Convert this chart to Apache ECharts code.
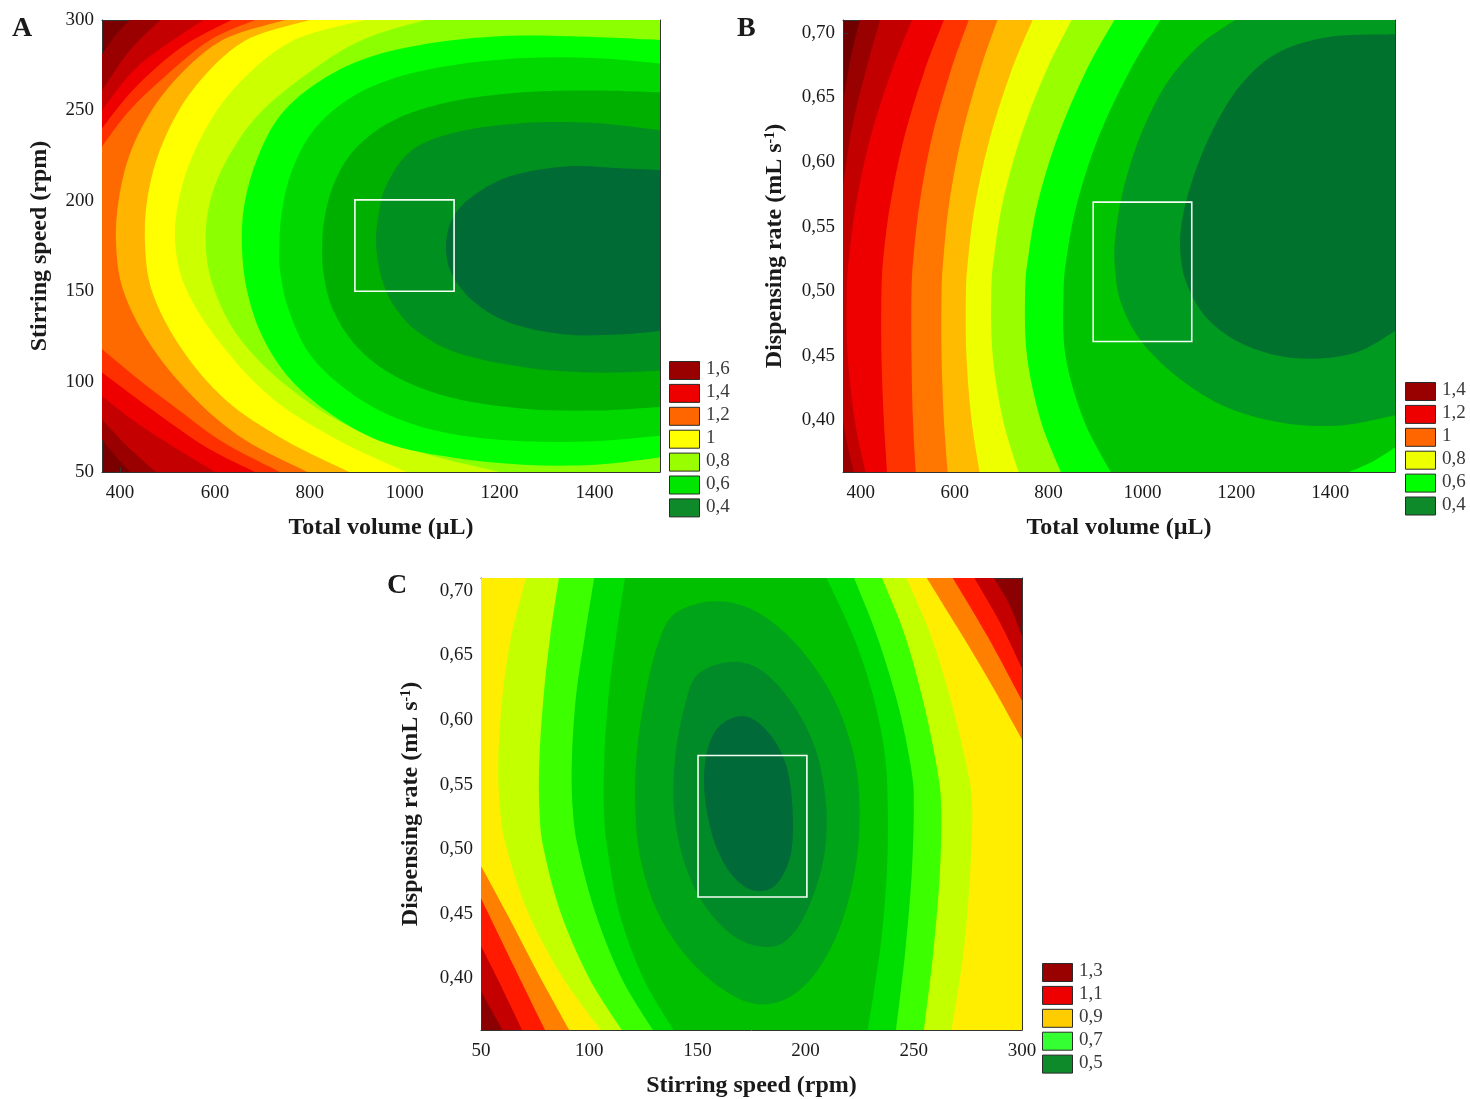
<!DOCTYPE html>
<html>
<head>
<meta charset="utf-8">
<script src="https://cdn.jsdelivr.net/npm/echarts@6/dist/echarts.min.js"></script>
<style>
  html, body { margin: 0; background: #fff; }
  #chart { width: 1470px; height: 1099px; }
</style>
</head>
<body>
<div id="chart"></div>
<script>
// axis ranges of the three response surfaces
var volumeRange = [362, 1538];
var speedRange = [50, 300];
var rateRange = [0.36, 0.71];

// tick labels
var volumeTicks = [400, 600, 800, 1000, 1200, 1400];
var speedTicks = [50, 100, 150, 200, 250, 300];
var rateTicks = [0.40, 0.45, 0.50, 0.55, 0.60, 0.65, 0.70];

// legend labels
var legendA = ['1,6', '1,4', '1,2', '1', '0,8', '0,6', '0,4'];
var legendB = ['1,4', '1,2', '1', '0,8', '0,6', '0,4'];
var legendC = ['1,3', '1,1', '0,9', '0,7', '0,5'];

// optimum boxes [x1, y1, x2, y2]
var boxA = [895, 150, 1104, 200.5];
var boxB = [895, 0.461, 1105, 0.569];
var boxC = [150.3, 0.463, 200.6, 0.5725];

// contour levels (outer -> inner) and the contour pieces
// each piece runs with the lower-value side on its right
var levelsA = [1.65, 1.55, 1.45, 1.35, 1.25, 1.15, 1.05, 0.95, 0.85, 0.75, 0.65, 0.55, 0.45, 0.35];
var contoursA = [
  [[[362, 281], [392, 292], [421, 300]], [[421, 50], [390, 59], [362, 68]]],
  [[[362, 261], [420, 283], [485, 300]], [[476, 50], [420, 63], [362, 79]]],
  [[[362, 250], [440, 275], [575, 300]], [[600, 50], [500, 66], [420, 80], [362, 92]]],
  [[[362, 240], [430, 262], [530, 285], [635, 300]], [[685, 50], [580, 64], [470, 84], [362, 105]]],
  [[[362, 230], [420, 250], [500, 270], [590, 289], [685, 300]], [[737, 50], [620, 66], [520, 85], [440, 101], [362, 118]]],
  [[[795, 50], [662, 68], [560, 90], [470, 118], [410, 148], [392, 174], [398, 202], [430, 232], [500, 262], [610, 288], [748, 300]]],
  [[[883, 50], [745, 68], [622, 90], [530, 118], [470, 148], [453, 174], [458, 202], [490, 232], [555, 262], [660, 288], [800, 300]]],
  [[[1003, 50], [857, 68], [724, 90], [621, 118], [545, 148], [517, 174], [525, 202], [565, 232], [640, 262], [760, 288], [916, 300]]],
  [[[1200, 50], [1030, 61], [870, 77], [745, 99], [652, 124], [600, 150], [581, 174], [590, 200], [630, 225], [700, 250], [820, 275], [920, 290], [1043, 300]]],
  [[[1538, 58], [1400, 54], [1250, 54], [1100, 58], [960, 66], [850, 81], [760, 101], [700, 125], [668, 150], [657, 174], [662, 198], [690, 224], [740, 248], [820, 266], [920, 279], [1050, 287], [1200, 291], [1350, 291], [1538, 289]]],
  [[[1538, 70], [1400, 67], [1250, 67], [1100, 71], [980, 80], [880, 95], [800, 115], [755, 140], [738, 160], [736, 174], [740, 192], [760, 215], [805, 238], [880, 256], [980, 268], [1100, 275], [1250, 279], [1400, 279], [1538, 276]]],
  [[[1538, 86], [1400, 84], [1250, 85], [1100, 91], [980, 103], [900, 119], [850, 139], [830, 158], [826, 174], [832, 192], [855, 212], [900, 230], [980, 245], [1100, 255], [1250, 260], [1400, 261], [1538, 260]]],
  [[[1538, 106], [1400, 105], [1250, 108], [1110, 116], [1030, 127], [985, 139], [955, 154], [940, 174], [944, 191], [962, 209], [1015, 228], [1110, 238], [1250, 243], [1400, 243], [1538, 239]]],
  [[[1538, 128], [1450, 126], [1340, 126], [1227, 132], [1151, 143], [1102, 158], [1087, 174], [1102, 191], [1151, 204], [1227, 214], [1340, 219], [1453, 218], [1538, 217]]]
];

var levelsB = [1.45, 1.35, 1.25, 1.15, 1.05, 0.95, 0.85, 0.75, 0.65, 0.55, 0.45, 0.35];
var contoursB = [
  [[[362, 0.645], [378, 0.68], [398, 0.71]]],
  [[[362, 0.58], [380, 0.625], [410, 0.67], [441, 0.71]], [[385, 0.36], [372, 0.38], [362, 0.40]]],
  [[[410, 0.36], [387, 0.40], [372, 0.45], [370, 0.50], [376, 0.53], [391, 0.57], [421, 0.62], [465, 0.67], [509, 0.71]]],
  [[[456, 0.36], [449, 0.40], [444, 0.45], [444, 0.50], [449, 0.53], [464, 0.57], [493, 0.62], [535, 0.67], [577, 0.71]]],
  [[[517, 0.36], [511, 0.40], [508, 0.45], [508, 0.50], [513, 0.53], [526, 0.57], [552, 0.62], [591, 0.67], [630, 0.71]]],
  [[[585, 0.36], [577, 0.40], [572, 0.45], [572, 0.50], [577, 0.53], [589, 0.57], [615, 0.62], [653, 0.67], [691, 0.71]]],
  [[[653, 0.36], [636, 0.40], [625, 0.45], [624, 0.50], [630, 0.53], [645, 0.57], [676, 0.62], [720, 0.67], [766, 0.71]]],
  [[[736, 0.36], [703, 0.40], [681, 0.45], [678, 0.50], [685, 0.53], [703, 0.57], [741, 0.62], [794, 0.67], [849, 0.71]]],
  [[[826, 0.36], [783, 0.40], [754, 0.45], [750, 0.50], [758, 0.53], [778, 0.57], [820, 0.62], [879, 0.67], [940, 0.71]]],
  [[[932, 0.36], [875, 0.40], [836, 0.45], [832, 0.50], [840, 0.53], [862, 0.57], [907, 0.62], [972, 0.67], [1038, 0.71]], [[1538, 0.379], [1490, 0.368], [1440, 0.36]]],
  [[[1538, 0.404], [1420, 0.396], [1300, 0.398], [1180, 0.41], [1080, 0.432], [1000, 0.46], [955, 0.49], [941, 0.52], [943, 0.545], [960, 0.58], [995, 0.62], [1050, 0.66], [1120, 0.69], [1197, 0.71]]],
  [[[1538, 0.469], [1450, 0.452], [1330, 0.448], [1220, 0.458], [1140, 0.478], [1095, 0.505], [1080, 0.533], [1087, 0.56], [1110, 0.59], [1150, 0.625], [1210, 0.66], [1290, 0.685], [1400, 0.697], [1538, 0.699]]]
];

var levelsC = [1.3, 1.2, 1.1, 1.0, 0.9, 0.8, 0.7, 0.65, 0.6, 0.55, 0.5];
var contoursC = [
  [[[60, 0.36], [55, 0.375], [50, 0.39]], [[287, 0.71], [294, 0.69], [300, 0.665]]],
  [[[69, 0.36], [59, 0.395], [50, 0.425]], [[278, 0.71], [290, 0.675], [300, 0.64]]],
  [[[79.6, 0.36], [65, 0.41], [50, 0.462]], [[268, 0.71], [284, 0.665], [300, 0.615]]],
  [[[90.8, 0.36], [76, 0.405], [62, 0.45], [50, 0.487]], [[256, 0.71], [270, 0.672], [285, 0.63], [300, 0.585]]],
  [[[105.3, 0.36], [88, 0.40], [72, 0.45], [62, 0.50], [58.8, 0.531], [58, 0.57], [60, 0.62], [64, 0.665], [70.8, 0.71]], [[246.6, 0.71], [258, 0.665], [268, 0.61], [275, 0.56], [277, 0.531], [276, 0.48], [273, 0.42], [267.5, 0.36]]],
  [[[115, 0.36], [100, 0.40], [87, 0.45], [79, 0.50], [77, 0.531], [77, 0.57], [79, 0.62], [82, 0.665], [86, 0.71]], [[235.3, 0.71], [246, 0.665], [255, 0.61], [261, 0.56], [262.7, 0.531], [262, 0.48], [259, 0.42], [254.7, 0.36]]],
  [[[129.4, 0.36], [115, 0.40], [103, 0.45], [95, 0.50], [92.4, 0.531], [92, 0.57], [94, 0.62], [98, 0.665], [102.3, 0.71]], [[222.4, 0.71], [233, 0.665], [243, 0.61], [249, 0.56], [250, 0.531], [249, 0.48], [246, 0.42], [241.8, 0.36]]],
  [[[139, 0.36], [125, 0.40], [114, 0.45], [108.5, 0.50], [106.8, 0.531], [107, 0.57], [109, 0.62], [112.5, 0.665], [116.5, 0.71]], [[209.7, 0.71], [222, 0.665], [231, 0.62], [236.5, 0.575], [238, 0.531], [237.5, 0.48], [235, 0.43], [232, 0.395], [228.8, 0.36]]],
  [[[140, 0.683], [158, 0.692], [176, 0.685], [195, 0.66], [212, 0.62], [222, 0.575], [225, 0.531], [223, 0.485], [216, 0.44], [205, 0.405], [192, 0.385], [178, 0.38], [163, 0.39], [146, 0.415], [132, 0.45], [124, 0.49], [121.3, 0.531], [122, 0.575], [126, 0.62], [132, 0.66]]],
  [[[150, 0.635], [165, 0.645], [180, 0.638], [195, 0.61], [205, 0.575], [209.6, 0.531], [208, 0.49], [200, 0.45], [190, 0.428], [178, 0.425], [165, 0.435], [152, 0.46], [143, 0.495], [139, 0.535], [140, 0.575], [144, 0.61]]],
  [[[160, 0.595], [172, 0.603], [183, 0.59], [191, 0.565], [194, 0.53], [193, 0.495], [186, 0.472], [176, 0.468], [166, 0.48], [158, 0.505], [153.5, 0.54], [154, 0.572]]]
];

// ---- styles ----
var serif = "'Liberation Serif', 'DejaVu Serif', serif";
var textColor = '#1a1a1a';
var frameColor = '#333';
// background = band above the highest level, then one fill per level
var topA = '#7a0000';
var fillsA = ['#9a0000', '#c40000', '#ee0000', '#ff3000', '#ff6a00', '#ffb400', '#ffff00', '#ccff00', '#8cff00', '#00ff00', '#00d800', '#00b000', '#00901f', '#006b35'];
var topB = '#700000';
var fillsB = ['#990000', '#c20000', '#ee0000', '#ff3300', '#ff7700', '#ffbb00', '#eeff00', '#99ff00', '#00ff00', '#00c400', '#009a20', '#00722e'];
var topC = '#8b0000';
var fillsC = ['#c40000', '#ff1a00', '#ff8000', '#ffee00', '#c4ff00', '#3cff00', '#00dd00', '#00c000', '#00a418', '#008a28', '#006a38'];
var swatchA = ['#990000', '#ee0000', '#ff6600', '#ffff00', '#99ff00', '#00e600', '#0f8a2a'];
var swatchB = ['#990000', '#ee0000', '#ff6600', '#eeff00', '#00ff00', '#0f8a2a'];
var swatchC = ['#990000', '#ee0000', '#ffcc00', '#33ff33', '#0f8a2a'];

function comma(v, d) { return d ? v.toFixed(d).replace('.', ',') : String(v); }

function evenTicks(range, n) {
  var out = [];
  for (var i = 1; i < n; i++) out.push(range[0] + (range[1] - range[0]) * i / n);
  return out;
}

// smooth curve (cubic pieces) through pixel points
function curveThrough(p, closed) {
  var n = p.length, s = '';
  var segs = closed ? n : n - 1;
  for (var i = 0; i < segs; i++) {
    var p0 = p[closed ? (i - 1 + n) % n : Math.max(i - 1, 0)];
    var p1 = p[i];
    var p2 = p[(i + 1) % n];
    var p3 = p[closed ? (i + 2) % n : Math.min(i + 2, n - 1)];
    var c1 = [p1[0] + (p2[0] - p0[0]) / 6, p1[1] + (p2[1] - p0[1]) / 6];
    var c2 = [p2[0] - (p3[0] - p1[0]) / 6, p2[1] - (p3[1] - p1[1]) / 6];
    s += 'C' + c1.join(',') + ' ' + c2.join(',') + ' ' + p2.join(',');
  }
  return s;
}

// region below a level: contour pieces joined by walking the plot frame clockwise
function regionPath(pieces, cs) {
  var x0 = cs.x, y0 = cs.y, w = cs.width, h = cs.height, per = 2 * (w + h);
  function edgePos(p) {
    var d = [Math.abs(p[1] - y0), Math.abs(p[0] - x0 - w), Math.abs(p[1] - y0 - h), Math.abs(p[0] - x0)];
    var k = d.indexOf(Math.min.apply(null, d));
    if (d[k] > 2) return -1;
    if (k === 0) return p[0] - x0;
    if (k === 1) return w + (p[1] - y0);
    if (k === 2) return w + h + (x0 + w - p[0]);
    return 2 * w + h + (y0 + h - p[1]);
  }
  var cornerT = [w, w + h, 2 * w + h, per];
  var cornerP = [[x0 + w, y0], [x0 + w, y0 + h], [x0, y0 + h], [x0, y0]];
  var d = '';
  for (var i = 0; i < pieces.length; i++) {
    var pts = pieces[i];
    var closed = pieces.length === 1 && edgePos(pts[0]) < 0;
    d += (i === 0 ? 'M' : 'L') + pts[0].join(',');
    d += curveThrough(pts, closed);
    if (closed) return d + 'Z';
    var next = pieces[(i + 1) % pieces.length][0];
    var t0 = edgePos(pts[pts.length - 1]), t1 = edgePos(next);
    if (t1 <= t0) t1 += per;
    for (var k = 0; k < 8; k++) {
      var tc = cornerT[k % 4] + (k >= 4 ? per : 0);
      if (tc > t0 && tc < t1) d += 'L' + cornerP[k % 4].join(',');
    }
  }
  return d + 'Z';
}

function contourSeries(g, levels, contours, fills) {
  return {
    type: 'custom',
    coordinateSystem: 'cartesian2d',
    xAxisIndex: g * 2, yAxisIndex: g * 2,
    silent: true,
    z: 2,
    data: levels.map(function (l) { return [l]; }),
    renderItem: function (params, api) {
      var cs = params.coordSys;
      var pieces = contours[params.dataIndex].map(function (piece) {
        return piece.map(function (p) { return api.coord(p); });
      });
      return {
        type: 'path',
        z2: params.dataIndex,
        shape: { pathData: regionPath(pieces, cs) },
        style: { fill: fills[params.dataIndex], stroke: null },
        clipPath: { type: 'rect', shape: { x: cs.x, y: cs.y, width: cs.width, height: cs.height } }
      };
    }
  };
}

function boxSeries(g, box) {
  return {
    type: 'custom',
    coordinateSystem: 'cartesian2d',
    xAxisIndex: g * 2, yAxisIndex: g * 2,
    silent: true,
    z: 5,
    data: [box],
    renderItem: function (params, api) {
      var a = api.coord([api.value(0), api.value(3)]);
      var b = api.coord([api.value(2), api.value(1)]);
      return {
        type: 'rect',
        shape: { x: a[0], y: a[1], width: b[0] - a[0], height: b[1] - a[1] },
        style: { fill: null, stroke: '#f4fff4', lineWidth: 1.6 }
      };
    }
  };
}

var tickFont = { fontFamily: serif, fontSize: 19, color: textColor };
var titleFont = { fontFamily: serif, fontSize: 24, fontWeight: 'bold', color: textColor };
var rateName = '{t|Dispensing rate (mL s}{s|-1}{t|)}';
var rateRich = {
  t: { fontFamily: serif, fontSize: 24, fontWeight: 'bold', color: textColor },
  s: { fontFamily: serif, fontSize: 14, fontWeight: 'bold', color: textColor, verticalAlign: 'top', padding: [0, 0, 10, 0] }
};

function axisPair(g, dir, range, ticks, digits, name, nameGap, extraTicks, rich) {
  var line = { show: true, onZero: false, lineStyle: { color: frameColor, width: 1 } };
  var main = {
    gridIndex: g, type: 'value', min: range[0], max: range[1],
    position: dir === 'x' ? 'bottom' : 'left',
    axisLine: line,
    axisTick: { show: true, inside: true, length: 5, customValues: ticks, lineStyle: { color: frameColor } },
    axisLabel: { customValues: ticks, margin: dir === 'x' ? 12 : 8, formatter: function (v) { return comma(v, digits); } },
    splitLine: { show: false },
    name: name, nameLocation: 'middle', nameGap: nameGap,
    nameTextStyle: rich ? { rich: rich } : titleFont
  };
  Object.assign(main.axisLabel, tickFont);
  var other = {
    gridIndex: g, type: 'value', min: range[0], max: range[1],
    position: dir === 'x' ? 'top' : 'right',
    axisLine: line,
    axisTick: { show: true, inside: true, length: 5, customValues: extraTicks, lineStyle: { color: frameColor } },
    axisLabel: { show: false },
    splitLine: { show: false }
  };
  return [main, other];
}

function legendGraphics(left, top, labels, colors) {
  var out = [];
  labels.forEach(function (lab, i) {
    var y = top + i * 22.9;
    out.push({ type: 'rect', left: left, top: y, shape: { width: 30, height: 18 },
      style: { fill: colors[i], stroke: '#2a2a2a', lineWidth: 1 } });
    out.push({ type: 'text', left: left + 37, top: y - 1,
      style: { text: lab, font: '19px ' + serif, fill: '#3a3a3a' } });
  });
  return out;
}

var grids = [
  { left: 102, top: 20, width: 558, height: 452 },
  { left: 843, top: 20, width: 552, height: 452 },
  { left: 481, top: 578, width: 541, height: 452 }
];
[topA, topB, topC].forEach(function (c, i) {
  grids[i].show = true; grids[i].backgroundColor = c; grids[i].borderWidth = 0;
});

var xAxes = [].concat(
  axisPair(0, 'x', volumeRange, volumeTicks, 0, 'Total volume (µL)', 44, evenTicks(volumeRange, 7)),
  axisPair(1, 'x', volumeRange, volumeTicks, 0, 'Total volume (µL)', 44, evenTicks(volumeRange, 7)),
  axisPair(2, 'x', speedRange, speedTicks, 0, 'Stirring speed (rpm)', 44, evenTicks(speedRange, 14))
);
var yAxes = [].concat(
  axisPair(0, 'y', speedRange, speedTicks, 0, 'Stirring speed (rpm)', 50, evenTicks(speedRange, 14)),
  axisPair(1, 'y', rateRange, rateTicks, 2, rateName, 56, evenTicks(rateRange, 9), rateRich),
  axisPair(2, 'y', rateRange, rateTicks, 2, rateName, 58, evenTicks(rateRange, 9), rateRich)
);

var chart = echarts.init(document.getElementById('chart'), null, { renderer: 'canvas' });
chart.setOption({
  backgroundColor: '#fff',
  animation: false,
  title: [
    { text: 'A', left: 7, top: 10, textStyle: { fontFamily: serif, fontSize: 28, fontWeight: 'bold', color: textColor } },
    { text: 'B', left: 732, top: 10, textStyle: { fontFamily: serif, fontSize: 28, fontWeight: 'bold', color: textColor } },
    { text: 'C', left: 382, top: 567, textStyle: { fontFamily: serif, fontSize: 28, fontWeight: 'bold', color: textColor } }
  ],
  grid: grids,
  xAxis: xAxes,
  yAxis: yAxes,
  series: [
    contourSeries(0, levelsA, contoursA, fillsA),
    contourSeries(1, levelsB, contoursB, fillsB),
    contourSeries(2, levelsC, contoursC, fillsC),
    boxSeries(0, boxA),
    boxSeries(1, boxB),
    boxSeries(2, boxC)
  ],
  graphic: [].concat(
    legendGraphics(669, 361, legendA, swatchA),
    legendGraphics(1405, 382, legendB, swatchB),
    legendGraphics(1042, 963, legendC, swatchC)
  )
});
</script>
</body>
</html>
